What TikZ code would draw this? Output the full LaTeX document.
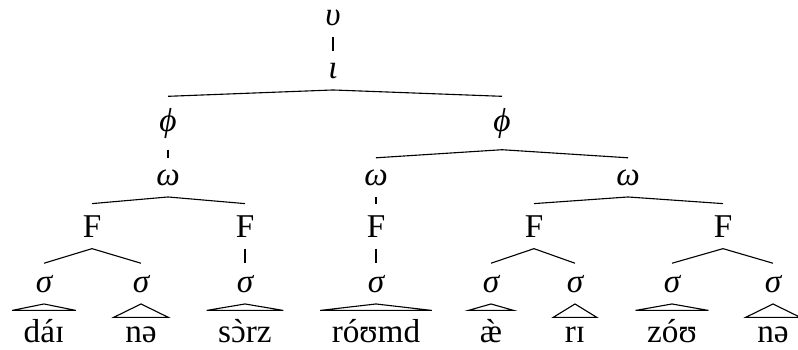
\documentclass[tikz,border=0pt]{standalone}
\usepackage{fontspec}
\setmainfont{Liberation Serif}
\usepackage{tikz}
\usetikzlibrary{positioning}
\definecolor{treeink}{HTML}{000000}
\newcommand{\grv}[1]{{\ooalign{#1\cr\hidewidth\char"02CB\hidewidth\cr}}}
\tikzset{
  cat/.style={anchor=base, inner sep=4pt, font=\fontsize{12}{14}\selectfont, text=treeink},
  greek/.style={cat, font=\fontsize{12}{14}\selectfont\itshape},
  seg/.style={cat, text height=7.2pt},
  segshort/.style={cat, text height=4.7pt},
  branch/.style={draw=treeink, line width=0.4pt},
  roofline/.style={branch, line join=miter},
}

\begin{document}
\begin{tikzpicture}[x=0.361pt, y=-0.361pt]
  \useasboundingbox (0,0) rectangle (798,349);
  % prosodic levels
  \node[greek] (utt) at (333,25) {υ};
  \node[greek] (ip) at (333,78) {ι};
  \node[greek] (pp1) at (168,131) {ϕ};
  \node[greek] (pp2) at (502,131) {ϕ};
  \node[greek] (pw1) at (168,185) {ω};
  \node[greek] (pw2) at (376,185) {ω};
  \node[greek] (pw3) at (628,185) {ω};
  \node[cat] (ft1) at (92,237) {F};
  \node[cat] (ft2) at (245,237) {F};
  \node[cat] (ft3) at (376,237) {F};
  \node[cat] (ft4) at (534,237) {F};
  \node[cat] (ft5) at (723,237) {F};
  \node[greek] (syl1) at (44,292) {σ};
  \node[greek] (syl2) at (141,292) {σ};
  \node[greek] (syl3) at (245,292) {σ};
  \node[greek] (syl4) at (376,292) {σ};
  \node[greek] (syl5) at (491,292) {σ};
  \node[greek] (syl6) at (575,292) {σ};
  \node[greek] (syl7) at (672,292) {σ};
  \node[greek] (syl8) at (773,292) {σ};
  % segments
  \node[seg] (seg1) at (44,342) {dáɪ};
  \node[segshort] (seg2) at (141,342) {nə};
  \node[seg] (seg3) at (245,342) {s\grv{ɔ}rz};
  \node[seg] (seg4) at (376,342) {róʊmd};
  \node[seg] (seg5) at (491,342) {\grv{æ}};
  \node[segshort] (seg6) at (575,342) {rɪ};
  \node[seg] (seg7) at (672,342) {zóʊ};
  \node[segshort] (seg8) at (773,342) {nə};

  \draw[branch] (utt) -- (ip);
  \draw[branch] (ip.south) -- (pp1.north);
  \draw[branch] (ip.south) -- (pp2.north);
  \draw[branch] (pp1) -- (pw1);
  \draw[branch] (pp2.south) -- (pw2.north);
  \draw[branch] (pp2.south) -- (pw3.north);
  \draw[branch] (pw1.south) -- (ft1.north);
  \draw[branch] (pw1.south) -- (ft2.north);
  \draw[branch] (pw2) -- (ft3);
  \draw[branch] (pw3.south) -- (ft4.north);
  \draw[branch] (pw3.south) -- (ft5.north);
  \draw[branch] (ft1.south) -- (syl1.north);
  \draw[branch] (ft1.south) -- (syl2.north);
  \draw[branch] (ft2) -- (syl3);
  \draw[branch] (ft3) -- (syl4);
  \draw[branch] (ft4.south) -- (syl5.north);
  \draw[branch] (ft4.south) -- (syl6.north);
  \draw[branch] (ft5.south) -- (syl7.north);
  \draw[branch] (ft5.south) -- (syl8.north);
  % roofs over the segments
  \draw[roofline] (syl1.south) -- (seg1.north west) -- (seg1.north east) -- cycle;
  \draw[roofline] (syl2.south) -- (seg2.north west) -- (seg2.north east) -- cycle;
  \draw[roofline] (syl3.south) -- (seg3.north west) -- (seg3.north east) -- cycle;
  \draw[roofline] (syl4.south) -- (seg4.north west) -- (seg4.north east) -- cycle;
  \draw[roofline] (syl5.south) -- (seg5.north west) -- (seg5.north east) -- cycle;
  \draw[roofline] (syl6.south) -- (seg6.north west) -- (seg6.north east) -- cycle;
  \draw[roofline] (syl7.south) -- (seg7.north west) -- (seg7.north east) -- cycle;
  \draw[roofline] (syl8.south) -- (seg8.north west) -- (seg8.north east) -- cycle;
\end{tikzpicture}
\end{document}
